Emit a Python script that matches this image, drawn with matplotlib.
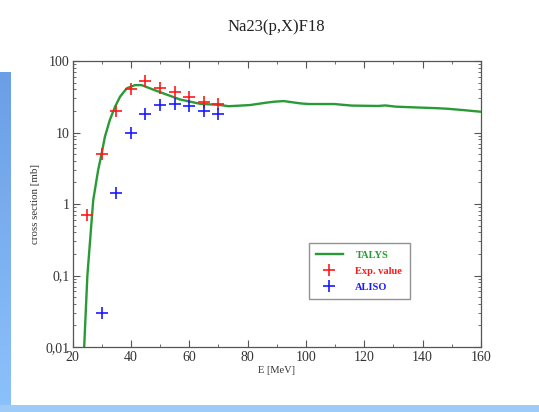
import numpy as np
import matplotlib
matplotlib.use("Agg")
import matplotlib.pyplot as plt
from matplotlib.colors import LinearSegmentedColormap
from matplotlib.ticker import FixedLocator, FuncFormatter, LogLocator, MultipleLocator, NullFormatter

# ---- data ----
title = "Na23(p,X)F18"
talys_E = [24.0, 25.1, 27.1, 28.8, 30.0, 31.1, 32.8, 34.6, 36.3, 38.6, 41.4, 43.7,
           46.5, 51.1, 56.8, 63.7, 70.5, 73.5, 80.8, 86.6, 89.3, 92.4, 98.2, 101.1,
           109.8, 115.6, 124.7, 127.2, 130.7, 136.6, 144.6, 148.4, 153.8, 160.0]
talys_xs = [0.01, 0.1, 1.13, 3.0, 5.1, 8.7, 15.0, 23.0, 31.7, 41.5, 46.0, 46.0,
            41.5, 35.3, 29.0, 25.2, 24.3, 23.3, 24.2, 26.2, 27.0, 27.5, 25.5, 25.0,
            25.0, 23.8, 23.5, 23.9, 23.0, 22.5, 21.9, 21.5, 20.6, 19.5]
exp_E = [25, 30, 35, 40, 45, 50, 55, 60, 65, 70]
exp_xs = [0.70, 5.0, 20.0, 40.0, 52.0, 41.5, 37.0, 31.0, 27.0, 24.8]
aliso_E = [30, 35, 40, 45, 50, 55, 60, 65, 70]
aliso_xs = [0.03, 1.44, 9.8, 18.3, 24.0, 24.8, 23.7, 20.0, 18.2]
xticks = [20, 40, 60, 80, 100, 120, 140, 160]
yticks = [0.01, 0.1, 1, 10, 100]
ytick_labels = ["0,01", "0,1", "1", "10", "100"]

W, H = 539, 412
fig = plt.figure(figsize=(W / 100, H / 100), dpi=100)
fig.patch.set_facecolor("white")

# decorative blue strips (slide background)
bg = fig.add_axes([0, 0, 1, 1], zorder=-10)
bg.set_xlim(0, W)
bg.set_ylim(H, 0)
bg.axis("off")
grad = np.linspace(0, 1, 256).reshape(-1, 1)
cmap = LinearSegmentedColormap.from_list("b", ["#6b9ee6", "#8cc2fb"])
bg.imshow(grad, cmap=cmap, extent=[0, 11, H, 72], aspect="auto")
bg.add_patch(plt.Rectangle((0, 405), W, 7, color="#9dcbf8", lw=0))

serif = ["Liberation Serif", "DejaVu Serif"]
grey = "#555555"

L, R, T, B = 72.5, 481, 61, 347
ax = fig.add_axes([L / W, 1 - B / H, (R - L) / W, (B - T) / H])
ax.set_yscale("log")
ax.set_xlim(20, 160)
ax.set_ylim(0.01, 100)

ax.plot(talys_E, talys_xs, color="#2a9a36", lw=1.7, label="TALYS", zorder=3)
ax.plot(exp_E, exp_xs, ls="none", marker="+", ms=9, mew=1.2, color="#ff1a1a", label="Exp. value", zorder=4)
ax.plot(aliso_E, aliso_xs, ls="none", marker="+", ms=9, mew=1.2, color="#1a1aff", label="ALISO", zorder=4)

ax.xaxis.set_major_locator(FixedLocator(xticks))
ax.xaxis.set_minor_locator(MultipleLocator(10))
ax.yaxis.set_major_locator(FixedLocator(yticks))
ax.yaxis.set_minor_locator(LogLocator(base=10, subs=np.arange(2, 10)))
ax.yaxis.set_minor_formatter(NullFormatter())
ax.yaxis.set_major_formatter(FuncFormatter(lambda v, p: dict(zip(yticks, ytick_labels)).get(round(v, 4), "")))
ax.tick_params(which="both", direction="in", top=True, right=True, colors=grey,
               labelcolor="#333333", labelsize=10)
ax.tick_params(which="major", length=5, width=0.8)
ax.tick_params(which="minor", length=2.5, width=0.6)
ax.tick_params(axis="x", pad=3)
ax.tick_params(axis="y", pad=2)
for lab in ax.get_xticklabels() + ax.get_yticklabels():
    lab.set_family(serif)
for s in ax.spines.values():
    s.set_color(grey)
    s.set_linewidth(0.9)

ax.set_xlabel("E [MeV]", family=serif, fontsize=7.5, color="#333333", labelpad=1)
ax.set_ylabel("cross section [mb]", family=serif, fontsize=7.8, color="#333333", labelpad=4)

fig.text(276.5 / W, 1 - 27 / H, title, ha="center", va="center", family=serif,
         fontsize=12, color="#222222")

leg = ax.legend(loc="upper left", bbox_to_anchor=((308.5 - L) / (R - L), (B - 243) / (B - T)),
                borderaxespad=0, frameon=True, fancybox=False, edgecolor="#777777", borderpad=0.7,
                handlelength=2.6, labelspacing=0.65, handletextpad=1.2,
                prop={"family": serif, "size": 7.5, "weight": "bold"})
leg.get_frame().set_linewidth(1.0)
for txt, c in zip(leg.get_texts(), ["#2a9a36", "#ff1a1a", "#1a1aff"]):
    txt.set_color(c)

fig.savefig("out.png", dpi=100)
